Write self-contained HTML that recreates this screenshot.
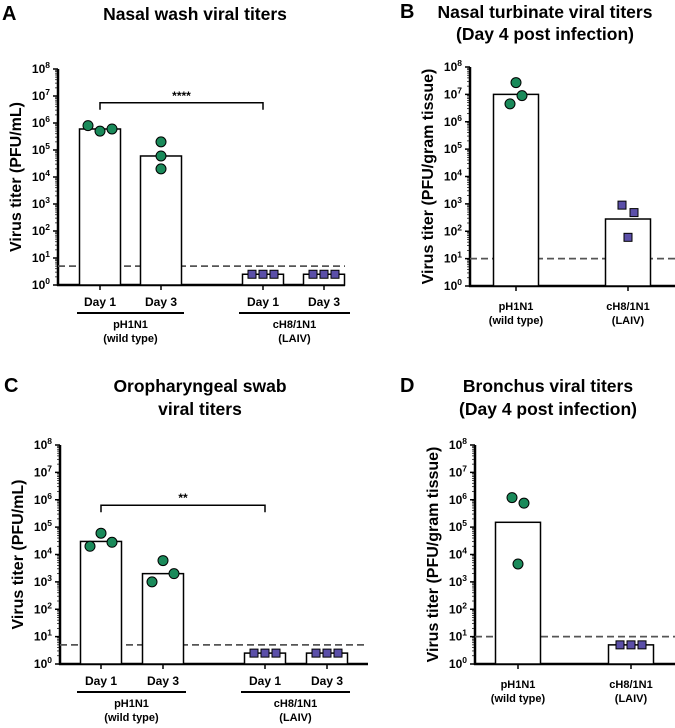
<!DOCTYPE html>
<html><head><meta charset="utf-8"><style>
body{margin:0;background:#fff;}
svg{display:block;font-family:"Liberation Sans",Arial,sans-serif;font-weight:bold;}
</style></head><body>
<svg id="c" width="675" height="728"></svg>
<script>
// Panel A: nasal wash
const aCats=["Day 1","Day 3","Day 1","Day 3"];
const aBars=[6e5,6e4,2.5,2.5];
const aPts=[[8e5,5e5,6e5],[2e5,6e4,2e4],[2.5,2.5,2.5],[2.5,2.5,2.5]];
// Panel B: nasal turbinate
const bCats=["pH1N1|(wild type)","cH8/1N1|(LAIV)"];
const bBars=[1e7,280];
const bPts=[[4.5e6,2.7e7,9e6],[900,60,480]];
// Panel C: oropharyngeal swab
const cBars=[3e4,2e3,2.5,2.5];
const cPts=[[2e4,6e4,2.8e4],[1e3,6e3,2e3],[2.5,2.5,2.5],[2.5,2.5,2.5]];
// Panel D: bronchus
const dBars=[1.5e5,5];
const dPts=[[1.2e6,4.5e3,7.5e5],[5,5,5]];
const yTicks=[0,1,2,3,4,5,6,7,8];
const NS="http://www.w3.org/2000/svg";
const svg=document.getElementById('c');
function el(t,a,p){const e=document.createElementNS(NS,t);for(const k in a)e.setAttribute(k,a[k]);(p||svg).appendChild(e);return e;}
function txt(x,y,s,size,anchor,p){const t=el('text',{x:x,y:y,'font-size':size,'text-anchor':anchor||'middle'},p);t.textContent=s;return t;}

function panel(o){
  const g=el('g',{});
  
  
  const ys=v=>o.y0-(Math.log10(v))*(o.y0-o.yt)/8;
  txt(o.lx,o.ty[0],o.letter,20,'start',g);
  o.title.forEach((s,i)=>{const t=txt(o.tx,o.ty[i],s,17.5,'middle',g);});
  el('line',{x1:o.ax,y1:o.yt,x2:o.ax,y2:o.y0+1,stroke:'#000','stroke-width':2.5},g);
  el('line',{x1:o.ax-1,y1:o.y0,x2:o.xe,y2:o.y0,stroke:'#000','stroke-width':2.5},g);
  yTicks.forEach(d=>{
    const y=ys(Math.pow(10,d));
    el('line',{x1:o.ax-5,y1:y,x2:o.ax,y2:y,stroke:'#000','stroke-width':1.5},g);
    if(d<8)for(let m=2;m<10;m++){const yy=ys(m*Math.pow(10,d));el('line',{x1:o.ax-3,y1:yy,x2:o.ax,y2:yy,stroke:'#000','stroke-width':0.7},g);}
    const t=el('text',{x:o.ax-8,y:y+4,'font-size':12,'text-anchor':'end'},g);
    
    t.textContent='10';
    const s=el('tspan',{dy:-5,'font-size':8.5},t);s.textContent=d;
  });
  const yl=txt(0,0,o.ylab,16,'middle',g);
  yl.setAttribute('transform',`translate(${o.ax-37},${(o.y0+o.yt)/2}) rotate(-90)`);
  
  el('line',{x1:o.ax,y1:ys(o.lod),x2:o.xe,y2:ys(o.lod),stroke:'#555','stroke-width':1.8,'stroke-dasharray':'7,4'},g);
  o.bars.forEach((v,i)=>{
    const cx=o.cx[i];
    const r=el('rect',{x:cx-o.bw/2,y:ys(v),width:o.bw,height:o.y0-ys(v),fill:'#fff',stroke:'#000','stroke-width':1.5},g);
    
    
    el('line',{x1:cx,y1:o.y0,x2:cx,y2:o.y0+5,stroke:'#000','stroke-width':1.5},g);
    const pts=o.pts[i], sq=o.sq[i];
    pts.forEach((p,j)=>{
      const px=cx+(j-1)*o.dx[i], py=ys(p);
      let m;
      if(sq) m=el('rect',{x:px-4,y:py-4,width:8,height:8,fill:'#5b4fa8',stroke:'#000','stroke-width':1},g);
      else m=el('circle',{cx:px,cy:py,r:5,fill:'#1a8a5a',stroke:'#000','stroke-width':1},g);
      
      
    });
  });
  if(o.cats){
    o.cats.forEach((c,i)=>{const t=txt(o.cx[i],o.y0+21,c,12,'middle',g);});
    o.groups.forEach(gr=>{
      el('line',{x1:gr[0],y1:o.y0+28,x2:gr[1],y2:o.y0+28,stroke:'#000','stroke-width':2},g);
      const m=(gr[0]+gr[1])/2;
      const t1=txt(m,o.y0+43,gr[2],11,'middle',g);
      txt(m,o.y0+57,gr[3],11,'middle',g);
    });
  } else {
    o.gcats.forEach((c,i)=>{const p=c.split('|');const t=txt(o.cx[i],o.y0+24,p[0],11,'middle',g);txt(o.cx[i],o.y0+38,p[1],11,'middle',g);});
  }
  if(o.sig){
    const y=ys(o.sig[0]);
    el('path',{d:`M${o.cx[0]},${y+7}V${y}H${o.cx[2]}V${y+7}`,fill:'none',stroke:'#000','stroke-width':1.5},g);
    const t=txt((o.cx[0]+o.cx[2])/2,y-3,o.sig[1],12,'middle',g);
    
  }
}
const grpA=[[77,184,'pH1N1','(wild type)'],[239,350,'cH8/1N1','(LAIV)']];
panel({name:'panel-a',letter:'A',lx:2,tx:195,ty:[20],title:['Nasal wash viral titers'],ax:58,y0:285,yt:69,xe:345,
  ylab:'Virus titer (PFU/mL)',lod:5,bars:aBars,pts:aPts,cx:[100,161,263,324],bw:41,dx:[12,0,11,11],sq:[0,0,1,1],
  cats:aCats,groups:grpA,sig:[Math.pow(10,6.75),'****']});
panel({name:'panel-b',letter:'B',lx:400,tx:545,ty:[18,40],title:['Nasal turbinate viral titers','(Day 4 post infection)'],ax:470,y0:286,yt:67,xe:675,
  ylab:'Virus titer (PFU/gram tissue)',lod:10,bars:bBars,pts:bPts,cx:[516,628],bw:45,dx:[6,6,6],sq:[0,1],gcats:bCats});
panel({name:'panel-c',letter:'C',lx:4,tx:200,ty:[392,415],title:['Oropharyngeal swab','viral titers'],ax:60,y0:664,yt:445,xe:368,
  ylab:'Virus titer (PFU/mL)',lod:5,bars:cBars,pts:cPts,cx:[101,163,265,327],bw:41,dx:[11,11,11,11],sq:[0,0,1,1],
  cats:aCats,groups:[[77,186,'pH1N1','(wild type)'],[241,350,'cH8/1N1','(LAIV)']],sig:[Math.pow(10,5.8),'**']});
panel({name:'panel-d',letter:'D',lx:400,tx:548,ty:[392,415],title:['Bronchus viral titers','(Day 4 post infection)'],ax:475,y0:664,yt:445,xe:675,
  ylab:'Virus titer (PFU/gram tissue)',lod:10,bars:dBars,pts:dPts,cx:[518,631],bw:45,dx:[6,11],sq:[0,1],gcats:bCats});
</script>
</body></html>
